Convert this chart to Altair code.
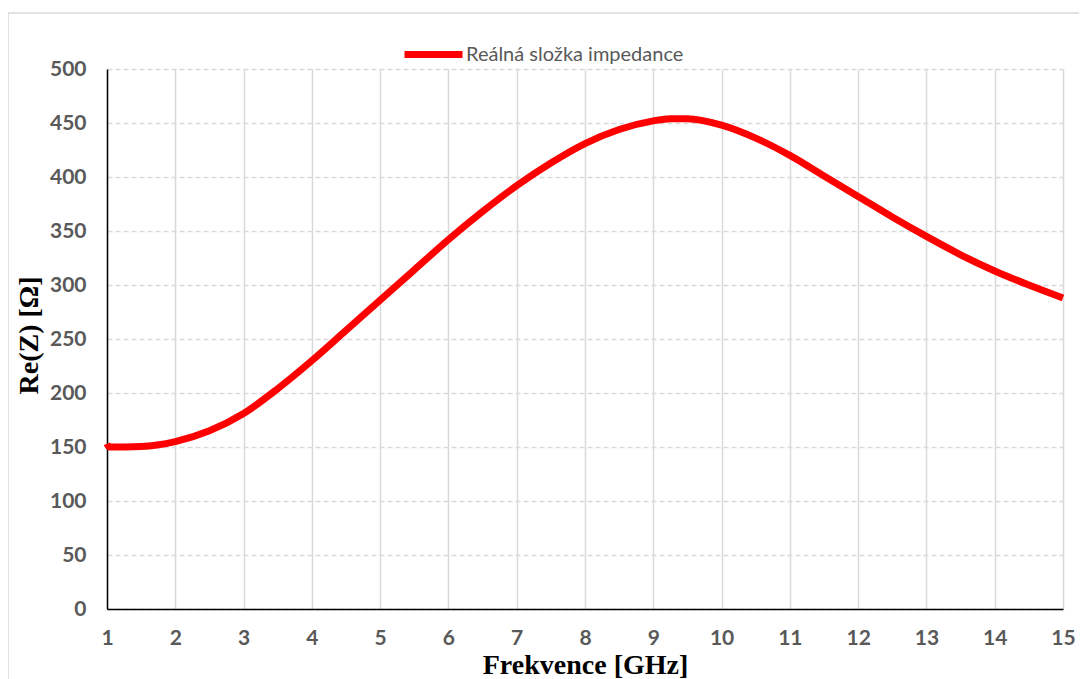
import altair as alt
import pandas as pd

freq = [1.0, 1.03, 1.5, 2, 2.5, 3, 3.5, 4, 4.5, 5, 5.5, 6, 6.5, 7, 7.5, 8, 8.5,
        9, 9.25, 9.5, 10, 10.5, 11, 11.5, 12, 12.5, 13, 13.5, 14, 14.5, 15]
re_z = [153, 150, 150.5, 155, 165, 181, 204, 230, 258, 286, 314, 342, 368, 392, 413, 431, 444,
        452, 454, 454, 448, 436, 420, 401, 382, 363, 345, 328, 313, 300, 288]
series_name = "Reálná složka impedance"
x_ticks = list(range(1, 16))
y_ticks = list(range(0, 501, 50))

df = pd.DataFrame({"f": freq, "r": re_z, "s": [series_name] * len(freq)})

W, H = 956, 540

frame = alt.Chart(pd.DataFrame({"a": [0]})).mark_rect(
    fillOpacity=0, stroke="#d9d9d9", strokeWidth=1.5
).encode(
    x=alt.value(-99), x2=alt.value(W + 200),
    y=alt.value(-56), y2=alt.value(H + 200)
)

line = alt.Chart(df).mark_line(strokeWidth=7, interpolate="monotone").encode(
    x=alt.X("f:Q", scale=alt.Scale(domain=[1, 15], nice=False, zero=False),
            axis=alt.Axis(values=x_ticks, title="Frekvence [GHz]", format="d",
                          grid=True, gridColor="#d9d9d9", gridWidth=1.5,
                          ticks=False, domainColor="#000000", domainWidth=1.5,
                          labelFont="Lato", labelFontWeight="bold", labelFontSize=21,
                          labelColor="#595959", labelPadding=18, labelFlush=False,
                          titleFont="Liberation Serif", titleFontWeight="bold",
                          titleFontSize=28, titleColor="#000000",
                          titleX=W / 2, titleY=64, titleBaseline="alphabetic")),
    y=alt.Y("r:Q", scale=alt.Scale(domain=[0, 500], nice=False),
            axis=alt.Axis(values=y_ticks, title="Re(Z) [Ω]",
                          grid=True, gridColor="#d9d9d9", gridWidth=1.5, gridDash=[5, 3],
                          ticks=False, domainColor="#000000", domainWidth=1.5,
                          labelFont="Lato", labelFontWeight="bold", labelFontSize=21,
                          labelColor="#595959", labelPadding=21,
                          titleFont="Liberation Serif", titleFontWeight="bold",
                          titleFontSize=28, titleColor="#000000",
                          titleX=-78, titleY=266, titleAngle=270,
                          titleAlign="center", titleBaseline="middle")),
    color=alt.Color("s:N", scale=alt.Scale(range=["#ff0000"]),
                    legend=alt.Legend(title=None, orient="none", legendX=294, legendY=-47,
                                      symbolType="stroke", symbolSize=3364,
                                      symbolStrokeWidth=7, labelFont="Lato",
                                      labelFontSize=20, labelColor="#595959",
                                      labelOffset=0, labelLimit=400))
)

chart = alt.layer(frame, line).properties(
    width=W, height=H,
    autosize=alt.AutoSizeParams(type="none"),
    padding={"left": 99, "top": 61, "right": 16, "bottom": 70}
).configure_view(stroke=None)

chart.save("out.html", embed_options={"renderer": "svg", "actions": False})
